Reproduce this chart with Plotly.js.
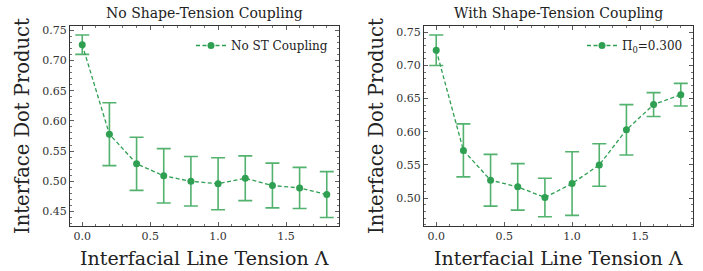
<!DOCTYPE html>
<html>
<head>
<meta charset="utf-8">
<script src="https://cdn.plot.ly/plotly-3.0.1.min.js"></script>
<style>html,body{margin:0;padding:0;background:#fff;}#chart{width:703px;height:271px;}</style>
</head>
<body>
<div id="chart"></div>
<script>
const lambdaVals = [0.0, 0.2, 0.4, 0.6, 0.8, 1.0, 1.2, 1.4, 1.6, 1.8];
const noCouplingMean = [0.726, 0.578, 0.529, 0.509, 0.500, 0.496, 0.505, 0.493, 0.489, 0.478];
const noCouplingErr  = [0.016, 0.052, 0.044, 0.045, 0.041, 0.043, 0.037, 0.037, 0.034, 0.038];
const withCouplingMean = [0.723, 0.572, 0.527, 0.517, 0.501, 0.522, 0.550, 0.603, 0.641, 0.656];
const withCouplingErr  = [0.023, 0.040, 0.039, 0.035, 0.029, 0.048, 0.032, 0.038, 0.018, 0.017];
const seriesNames = ['No ST Coupling', 'Π<sub>0</sub>=0.300'];
const panelTitles = ['No Shape-Tension Coupling', 'With Shape-Tension Coupling'];
const xTitle = 'Interfacial Line Tension Λ';
const yTitle = 'Interface Dot Product';

const green = '#2f9f52';
const errGreen = 'rgba(52,165,85,0.85)';
const font = 'DejaVu Serif';

function trace(y, e, name, xa, ya) {
  return {
    x: lambdaVals, y: y, name: name, xaxis: xa, yaxis: ya,
    type: 'scatter', mode: 'lines+markers',
    line: {color: green, width: 1.3, dash: '4px,2.5px'},
    marker: {color: green, size: 7},
    error_y: {type: 'data', array: e, visible: true, color: errGreen, thickness: 1.6, width: 7},
    showlegend: true, legend: xa === 'x' ? 'legend' : 'legend2'
  };
}

const axCommon = {
  showgrid: false, zeroline: false, showline: true, linecolor: '#333', linewidth: 1,
  mirror: 'allticks', ticks: 'inside', ticklen: 4, tickwidth: 0.8, tickcolor: '#333',
  tickfont: {family: font, size: 11, color: '#333'}
};

const data = [
  trace(noCouplingMean, noCouplingErr, seriesNames[0], 'x', 'y'),
  trace(withCouplingMean, withCouplingErr, seriesNames[1], 'x2', 'y2')
];

const yd = [1 - 226/271, 1 - 26/271];
const layout = {
  width: 703, height: 271, margin: {l: 0, r: 0, t: 0, b: 0},
  paper_bgcolor: '#fff', plot_bgcolor: '#fff',
  font: {family: font, color: '#222'},
  xaxis: Object.assign({}, axCommon, {domain: [70/703, 339/703], range: [-0.09, 1.89], dtick: 0.5, tick0: 0, tickformat: '.1f',
    minor: {dtick: 0.1, ticks: 'inside', ticklen: 2, tickcolor: '#333', tickwidth: 0.7}, anchor: 'y'}),
  yaxis: Object.assign({}, axCommon, {domain: yd, range: [0.426, 0.757], dtick: 0.05, tick0: 0, tickformat: '.2f',
    minor: {dtick: 0.01, ticks: 'inside', ticklen: 2, tickcolor: '#333', tickwidth: 0.7}, anchor: 'x'}),
  xaxis2: Object.assign({}, axCommon, {domain: [424/703, 693/703], range: [-0.09, 1.89], dtick: 0.5, tick0: 0, tickformat: '.1f',
    minor: {dtick: 0.1, ticks: 'inside', ticklen: 2, tickcolor: '#333', tickwidth: 0.7}, anchor: 'y2'}),
  yaxis2: Object.assign({}, axCommon, {domain: yd, range: [0.458, 0.7595], dtick: 0.05, tick0: 0, tickformat: '.2f',
    minor: {dtick: 0.01, ticks: 'inside', ticklen: 2, tickcolor: '#333', tickwidth: 0.7}, anchor: 'x2'}),
  legend: {x: 333/703, y: 1 - 31/271, xanchor: 'right', yanchor: 'top', bgcolor: 'rgba(0,0,0,0)',
    font: {family: font, size: 12, color: '#222'}, itemwidth: 30},
  legend2: {x: 688/703, y: 1 - 31/271, xanchor: 'right', yanchor: 'top', bgcolor: 'rgba(0,0,0,0)',
    font: {family: font, size: 12, color: '#222'}, itemwidth: 30},
  annotations: [
    {text: panelTitles[0], xref: 'paper', yref: 'paper', x: 204.5/703, y: 1 - 13/271, xanchor: 'center', yanchor: 'middle', showarrow: false, font: {family: font, size: 14, color: '#222'}},
    {text: panelTitles[1], xref: 'paper', yref: 'paper', x: 558.5/703, y: 1 - 13/271, xanchor: 'center', yanchor: 'middle', showarrow: false, font: {family: font, size: 14, color: '#222'}},
    {text: xTitle, xref: 'paper', yref: 'paper', x: 204.5/703, y: 1 - 258/271, xanchor: 'center', yanchor: 'middle', showarrow: false, font: {family: font, size: 19, color: '#222'}},
    {text: xTitle, xref: 'paper', yref: 'paper', x: 558.5/703, y: 1 - 258/271, xanchor: 'center', yanchor: 'middle', showarrow: false, font: {family: font, size: 19, color: '#222'}},
    {text: yTitle, xref: 'paper', yref: 'paper', x: 23/703, y: 1 - 126/271, textangle: -90, xanchor: 'center', yanchor: 'middle', showarrow: false, font: {family: font, size: 19.5, color: '#222'}},
    {text: yTitle, xref: 'paper', yref: 'paper', x: 377/703, y: 1 - 126/271, textangle: -90, xanchor: 'center', yanchor: 'middle', showarrow: false, font: {family: font, size: 19.5, color: '#222'}}
  ]
};

Plotly.newPlot('chart', data, layout, {staticPlot: true, displayModeBar: false});
</script>
</body>
</html>
